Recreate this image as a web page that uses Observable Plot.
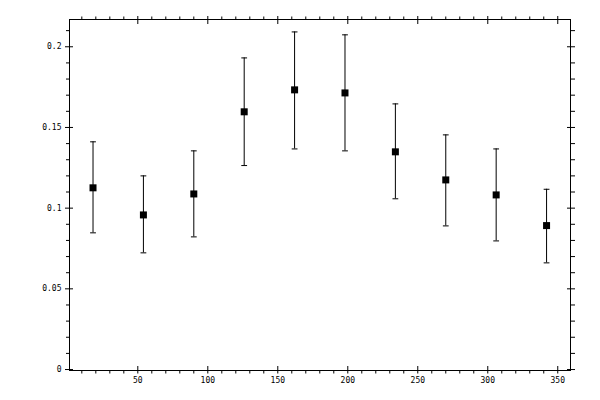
<!DOCTYPE html>
<html>
<head>
<meta charset="utf-8">
<script src="https://cdn.jsdelivr.net/npm/d3@7"></script>
<script src="https://cdn.jsdelivr.net/npm/@observablehq/plot@0.6"></script>
<style>
  html, body { margin: 0; padding: 0; background: #fff; }
</style>
</head>
<body>
<div id="chart"></div>
<script>
const xValues = [18, 54, 90, 126, 162, 198, 234, 270, 306, 342];
const meanValues = [0.1126, 0.0958, 0.1088, 0.1597, 0.1733, 0.1714, 0.1349, 0.1175, 0.1082, 0.0892];
const lowValues  = [0.0847, 0.0723, 0.0822, 0.1264, 0.1367, 0.1355, 0.1058, 0.0890, 0.0797, 0.0661];
const highValues = [0.1411, 0.1200, 0.1355, 0.1931, 0.2092, 0.2074, 0.1646, 0.1454, 0.1367, 0.1117];

const xTicks = [50, 100, 150, 200, 250, 300, 350];
const xTickLabels = ["50", "100", "150", "200", "250", "300", "350"];
const yTicks = [0, 0.05, 0.1, 0.15, 0.2];
const yTickLabels = ["0", "0.05", "0.1", "0.15", "0.2"];
const xMinor = d3.range(10, 360, 10).filter(v => v % 50 !== 0);
const yMinor = d3.range(1, 22).map(i => i / 100).filter((v, i) => (i + 1) % 5 !== 0);

const data = xValues.map((x, i) => ({x, mean: meanValues[i], lo: lowValues[i], hi: highValues[i]}));

const xFmt = d => xTickLabels[xTicks.indexOf(d)];
const yFmt = d => yTickLabels[yTicks.indexOf(d)];

const capShape = {draw(ctx, l) { ctx.moveTo(-l / 2, 0); ctx.lineTo(l / 2, 0); }};

const chart = Plot.plot({
  width: 600,
  height: 400,
  marginLeft: 69,
  marginRight: 30,
  marginTop: 19,
  marginBottom: 30,
  style: {fontFamily: "DejaVu Sans Mono", fontSize: "8px", background: "white", color: "black"},
  x: {domain: [1.2, 359.1], label: null},
  y: {domain: [-0.0006, 0.2169], label: null},
  marks: [
    Plot.frame({stroke: "black"}),
    // minor ticks (outward)
    Plot.axisX(xMinor, {anchor: "bottom", tickSize: 3.5, fill: "none", label: null}),
    Plot.axisX(xMinor, {anchor: "top", tickSize: 3.5, fill: "none", label: null}),
    Plot.axisY(yMinor, {anchor: "left", tickSize: 3, fill: "none", label: null}),
    Plot.axisY(yMinor, {anchor: "right", tickSize: 4, fill: "none", label: null}),
    // major ticks (crossing)
    Plot.axisX(xTicks, {anchor: "bottom", tickSize: 7.5, dy: -4, fill: "none", label: null}),
    Plot.axisX(xTicks, {anchor: "top", tickSize: 8, dy: 4, fill: "none", label: null}),
    Plot.axisY(yTicks, {anchor: "left", tickSize: 8, dx: 4, fill: "none", label: null}),
    Plot.axisY(yTicks, {anchor: "right", tickSize: 8, dx: -4, fill: "none", label: null}),
    // labels
    Plot.axisX(xTicks, {anchor: "bottom", tickSize: 0, stroke: "none", tickPadding: 7, tickFormat: xFmt, label: null}),
    Plot.axisY(yTicks, {anchor: "left", tickSize: 0, stroke: "none", tickPadding: 8, tickFormat: yFmt, label: null}),
    // error bars
    Plot.ruleX(data, {x: "x", y1: "lo", y2: "hi", stroke: "black", strokeWidth: 1}),
    Plot.vector(data, {x: "x", y: "lo", length: 5, rotate: 0, anchor: "start", shape: capShape, stroke: "black", strokeWidth: 1}),
    Plot.vector(data, {x: "x", y: "hi", length: 5, rotate: 0, anchor: "start", shape: capShape, stroke: "black", strokeWidth: 1}),
    // markers
    Plot.dot(data, {x: "x", y: "mean", symbol: "square", r: 3.95, fill: "black", stroke: "none"})
  ]
});
document.getElementById("chart").appendChild(chart);
</script>
</body>
</html>
